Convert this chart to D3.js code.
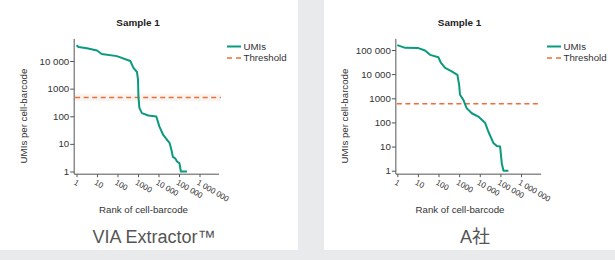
<!DOCTYPE html>
<html>
<head>
<meta charset="utf-8">
<script src="https://cdn.jsdelivr.net/npm/d3@7"></script>
<style>
  html, body { margin: 0; padding: 0; background: #e9eaec; }
  svg { display: block; font-family: "Liberation Sans", Arial, sans-serif; }
</style>
</head>
<body>
<svg id="chart" width="615" height="260"></svg>
<script>
// data
var xTickValues = [1, 10, 100, 1000, 10000, 100000, 1000000];
var xTickLabels = ["1", "10", "100", "1000", "10 000", "100 000", "1 000 000"];

var leftYTicks = [1, 10, 100, 1000, 10000];
var leftYLabels = ["1", "10", "100", "1000", "10 000"];
var rightYTicks = [1, 10, 100, 1000, 10000, 100000];
var rightYLabels = ["1", "10", "100", "1000", "10 000", "100 000"];

var leftRank = [1, 1.25, 3.2, 10, 17, 93, 420, 600, 890, 1000, 1050, 1170, 1550, 3200, 7800,
  11000, 17000, 35000, 45000, 50000, 65000, 80000, 105000, 123000, 245000];
var leftUmis = [37000, 32000, 29000, 24000, 18000, 15000, 10000, 5600, 4000, 2100, 520, 200, 130, 107, 98,
  43, 21, 10.7, 5.2, 3.4, 3.0, 2.3, 2.0, 1, 1];

var rightRank = [1, 2.4, 10.5, 22, 39, 98, 132, 209, 436, 820, 1000, 1100, 1600, 2300, 4100, 8500,
  18000, 26000, 46000, 67000, 97000, 117000, 141000, 245000];
var rightUmis = [160000, 123000, 120000, 95000, 63000, 50000, 29000, 18000, 13000, 9400, 3600, 1400, 860, 390, 240, 174,
  98, 42, 14, 10.5, 10, 2, 1, 1];

var leftThreshold = 480;
var leftBand = [350, 650];
var rightThreshold = 600;

var seriesNames = ["UMIs", "Threshold"];
var panelTitles = ["Sample 1", "Sample 1"];
var panelCaptions = ["VIA Extractor™", "A社"];

var cGreen = "#0b9a7d";
var cOrange = "#f26d3a";
var cAxis = "#555";
var cText = "#333";

var svg = d3.select("#chart");

// белые панели
svg.append("rect").attr("x", 0).attr("y", 0).attr("width", 298).attr("height", 250).attr("fill", "#fff");
svg.append("rect").attr("x", 324).attr("y", 0).attr("width", 291).attr("height", 250).attr("fill", "#fff");

function drawPanel(o) {
  var g = svg.append("g");

  var x = d3.scaleLog().domain([1, 1e6]).range(o.xRange);
  var y = d3.scaleLog().domain([1, o.yTicks[o.yTicks.length - 1]]).range(o.yRange);

  // band
  if (o.band) {
    g.append("rect")
      .attr("x", x(o.xMin)).attr("width", x(o.xBandEnd) - x(o.xMin))
      .attr("y", y(o.band[1])).attr("height", y(o.band[0]) - y(o.band[1]))
      .attr("fill", "#f7f4f2");
  }

  // оси
  var ax = g.append("g")
    .attr("transform", "translate(0," + y(o.yMin) + ")")
    .call(d3.axisBottom(x).tickValues(xTickValues).tickFormat(function(d, i) { return xTickLabels[i]; })
      .tickSize(3).tickSizeOuter(0));
  ax.select(".domain").remove();
  ax.selectAll("line").attr("stroke", cAxis);
  ax.selectAll("text")
    .attr("text-anchor", "start")
    .attr("fill", cText)
    .style("font-size", "8px")
    .attr("y", 0).attr("dy", "0.71em")
    .attr("transform", "translate(-1,5) rotate(30)");

  var ay = g.append("g")
    .attr("transform", "translate(" + x(o.xMin) + ",0)")
    .call(d3.axisLeft(y).tickValues(o.yTicks).tickFormat(function(d, i) { return o.yLabels[i]; })
      .tickSize(4).tickPadding(1).tickSizeOuter(0));
  ay.select(".domain").remove();
  ay.selectAll("line").attr("stroke", cAxis);
  ay.selectAll("text").attr("fill", cText).style("font-size", "9.7px");

  g.append("line")
    .attr("x1", x(o.xMin)).attr("x2", x(o.xMin))
    .attr("y1", y(o.yMax)).attr("y2", y(o.yMin))
    .attr("stroke", cAxis);
  g.append("line")
    .attr("x1", x(o.xMin)).attr("x2", x(o.xMax))
    .attr("y1", y(o.yMin)).attr("y2", y(o.yMin))
    .attr("stroke", cAxis);

  // threshold
  g.append("line")
    .attr("x1", x(o.xMin) + 1).attr("x2", x(o.xThEnd))
    .attr("y1", y(o.threshold)).attr("y2", y(o.threshold))
    .attr("stroke", cOrange).attr("stroke-width", 1.5)
    .attr("stroke-dasharray", "5,3.5");

  // UMIs
  var pts = o.rank.map(function(r, i) { return [r, o.umis[i]]; });
  g.append("path")
    .datum(pts)
    .attr("fill", "none")
    .attr("stroke", cGreen)
    .attr("stroke-width", 2)
    .attr("stroke-linejoin", "round")
    .attr("d", d3.line().x(function(d) { return x(d[0]); }).y(function(d) { return y(d[1]); }));

  // titles
  g.append("text")
    .attr("x", o.titleX).attr("y", 26)
    .attr("text-anchor", "middle").attr("font-weight", "bold")
    .style("font-size", "9.9px").attr("fill", "#222")
    .text(o.title);

  g.append("text")
    .attr("transform", "translate(" + o.yTitleX + ",116) rotate(-90)")
    .attr("text-anchor", "middle").attr("dy", "0.35em")
    .style("font-size", "9.7px").attr("fill", cText)
    .text("UMIs per cell-barcode");

  g.append("text")
    .attr("x", o.xTitleX).attr("y", 212.5)
    .attr("text-anchor", "middle")
    .style("font-size", "9.7px").attr("fill", cText)
    .text("Rank of cell-barcode");

  // legend
  var lg = g.append("g").attr("transform", "translate(" + o.legendX + ",0)");
  lg.append("line").attr("x1", 0).attr("x2", 14).attr("y1", 46.5).attr("y2", 46.5)
    .attr("stroke", cGreen).attr("stroke-width", 2);
  lg.append("line").attr("x1", 0).attr("x2", 14).attr("y1", 58).attr("y2", 58)
    .attr("stroke", cOrange).attr("stroke-width", 1.5).attr("stroke-dasharray", "5,4");
  lg.selectAll("text.lg")
    .data(seriesNames)
    .enter()
    .append("text")
    .attr("x", 16.5).attr("y", function(d, i) { return 46.5 + i * 11.5; })
    .attr("dy", "0.35em")
    .style("font-size", "9.7px").attr("fill", cText)
    .text(function(d) { return d; });

  // caption
  g.append("text")
    .attr("x", o.captionX).attr("y", 243)
    .attr("text-anchor", "middle")
    .style("font-size", "18px").attr("fill", "#555")
    .style("font-family", "'Liberation Sans', 'Noto Sans CJK JP', sans-serif")
    .text(o.caption);
}

drawPanel({
  xRange: [76.5, 199.5],
  yRange: [171.5, 61],
  xMin: 0.77, xMax: 9e6, xThEnd: 1.1e7, xBandEnd: 1.1e7,
  yMin: 0.8, yMax: 63000,
  yTicks: leftYTicks, yLabels: leftYLabels,
  rank: leftRank, umis: leftUmis,
  threshold: leftThreshold, band: leftBand,
  title: panelTitles[0], titleX: 138, yTitleX: 24, xTitleX: 143.5,
  legendX: 227, caption: panelCaptions[0], captionX: 154
});

drawPanel({
  xRange: [397.3, 521],
  yRange: [170.7, 50],
  xMin: 0.85, xMax: 9.5e6, xThEnd: 8.5e6,
  yMin: 0.72, yMax: 290000,
  yTicks: rightYTicks, yLabels: rightYLabels,
  rank: rightRank, umis: rightUmis,
  threshold: rightThreshold,
  title: panelTitles[1], titleX: 459.5, yTitleX: 345, xTitleX: 460,
  legendX: 547, caption: panelCaptions[1], captionX: 475
});
</script>
</body>
</html>
